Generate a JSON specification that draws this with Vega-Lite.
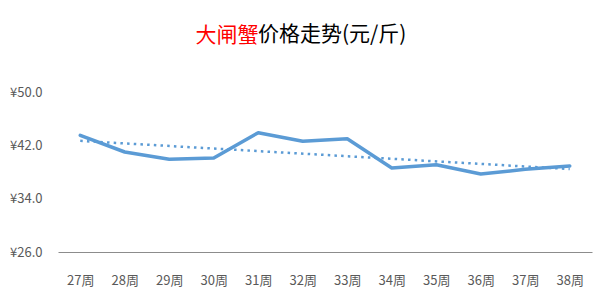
{
  "$schema": "https://vega.github.io/schema/vega-lite/v6.json",
  "width": 534,
  "height": 160,
  "autosize": "none",
  "padding": {"left": 58, "top": 92, "right": 8, "bottom": 48},
  "background": "white",
  "title": {
    "text": "价格走势(元/斤)",
    "anchor": "start",
    "frame": "group",
    "dx": 200,
    "fontSize": 21,
    "font": "Noto Sans CJK SC",
    "fontWeight": "normal",
    "color": "#000000",
    "baseline": "alphabetic",
    "offset": -38
  },
  "config": {"view": {"stroke": null}},
  "data": {
    "values": [
      {"week": 27, "price": 43.5},
      {"week": 28, "price": 41.0},
      {"week": 29, "price": 39.9},
      {"week": 30, "price": 40.1},
      {"week": 31, "price": 43.9},
      {"week": 32, "price": 42.6},
      {"week": 33, "price": 43.0},
      {"week": 34, "price": 38.6},
      {"week": 35, "price": 39.1},
      {"week": 36, "price": 37.7},
      {"week": 37, "price": 38.4},
      {"week": 38, "price": 38.9}
    ]
  },
  "layer": [
    {
      "mark": {"type": "line", "color": "#5B9BD5", "strokeWidth": 3.5, "strokeJoin": "round", "strokeCap": "round"},
      "encoding": {
        "x": {
          "field": "week",
          "type": "quantitative",
          "scale": {"domain": [26.5, 38.5], "nice": false, "zero": false},
          "axis": {
            "values": [27, 28, 29, 30, 31, 32, 33, 34, 35, 36, 37, 38],
            "labelExpr": "datum.value + '周'",
            "grid": false,
            "ticks": false,
            "domainColor": "#8c8c8c",
            "domainWidth": 1,
            "labelColor": "#595959",
            "labelFontSize": 13,
            "labelFont": "Noto Sans CJK SC",
            "labelPadding": 22,
            "title": null
          }
        },
        "y": {
          "field": "price",
          "type": "quantitative",
          "scale": {"domain": [26, 50], "nice": false, "zero": false},
          "axis": {
            "values": [26, 34, 42, 50],
            "labelExpr": "'¥' + format(datum.value, '.1f')",
            "grid": false,
            "ticks": false,
            "domain": false,
            "labelColor": "#595959",
            "labelFontSize": 13,
            "labelFont": "Noto Sans CJK SC",
            "labelPadding": 16,
            "title": "大闸蟹",
            "titleAngle": 0,
            "titleAlign": "left",
            "titleBaseline": "alphabetic",
            "titleX": 137,
            "titleY": -51,
            "titleColor": "#FF0000",
            "titleFont": "Noto Sans CJK SC",
            "titleFontSize": 21,
            "titleFontWeight": "normal"
          }
        }
      }
    },
    {
      "transform": [{"regression": "price", "on": "week"}],
      "mark": {"type": "line", "color": "#5B9BD5", "strokeWidth": 2.5, "strokeDash": [2.5, 4.2]},
      "encoding": {
        "x": {"field": "week", "type": "quantitative"},
        "y": {"field": "price", "type": "quantitative"}
      }
    }
  ]
}
